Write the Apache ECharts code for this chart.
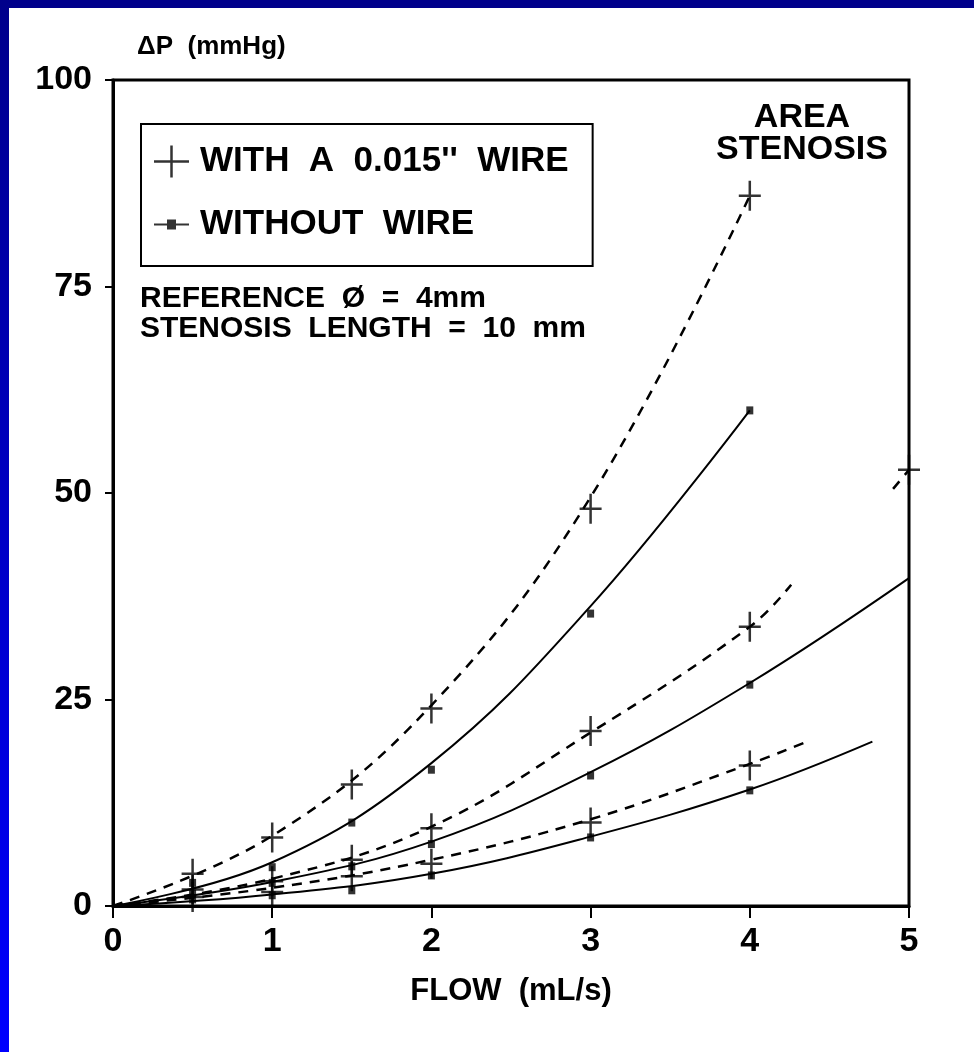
<!DOCTYPE html>
<html>
<head>
<meta charset="utf-8">
<script src="https://cdn.jsdelivr.net/npm/echarts@6/dist/echarts.min.js"></script>
<style>
  html, body { margin: 0; padding: 0; background: #fff; }
  #chart { width: 974px; height: 1052px; }
  .band-top { position: absolute; left: 0; top: 0; width: 974px; height: 8px; background: #00008b; }
  .band-left { position: absolute; left: 0; top: 0; width: 9px; height: 1052px; background: linear-gradient(#00008b, #0000ff); }
</style>
</head>
<body>
<div id="chart"></div>
<div class="band-top"></div>
<div class="band-left"></div>
<script>
// axes
const flowRange = [0, 5];
const pressureRange = [0, 100];

// measured points, with a 0.015" wire (+)
const wireHigh = [[0.5, 3.9], [1, 8.3], [1.5, 14.7], [2, 23.9], [3, 48.1], [4, 86]];
const wireMid = [[0.5, 2.0], [1, 3.0], [1.5, 5.6], [2, 9.4], [3, 21.2], [4, 33.8], [5, 52.8]];
const wireLow = [[0.5, 1.1], [1, 1.7], [1.5, 3.6], [2, 5.1], [3, 10.1], [4, 17.0]];
// measured points, without wire
const bareHigh = [[0.5, 2.8], [1, 4.7], [1.5, 10.1], [2, 16.5], [3, 35.4], [4, 60]];
const bareMid = [[0.5, 1.5], [1, 2.8], [1.5, 4.8], [2, 7.5], [3, 15.8], [4, 26.8]];
const bareLow = [[0.5, 0.8], [1, 1.3], [1.5, 1.9], [2, 3.7], [3, 8.3], [4, 14.0]];

// fitted curves (dashed = with wire)
const fitWireHigh = [[0, 0], [1, 8.5], [2, 24.3], [3, 49.5], [4, 86]];
const fitWireMid = [[0, 0], [1, 3.3], [2, 9.6], [3, 21], [4, 33.8], [4.26, 38.9]];
const fitWireMidTail = [[4.9, 50.5], [5, 52.8]];
const fitWireLow = [[0, 0], [1, 2.2], [2, 5.6], [3, 10.5], [4, 17.2], [4.36, 19.9]];
const fitBareHigh = [[0, 0], [1, 5.3], [2, 17.3], [3, 36.3], [4, 60]];
const fitBareMid = [[0, 0], [1, 2.9], [2, 7.8], [3, 16.2], [4, 27], [5, 39.7]];
const fitBareLow = [[0, 0], [1, 1.4], [2, 3.9], [3, 8.4], [4, 14.1], [4.77, 19.9]];

const WIRE = 'WITH  A  0.015\'\'  WIRE';
const NOWIRE = 'WITHOUT  WIRE';

const plain = '"Liberation Sans", Arial, sans-serif';

const plusSymbol = 'path://M9.75,0 H12.25 V13.75 H22 V16.25 H12.25 V30 H9.75 V16.25 H0 V13.75 H9.75 Z';
const plusIcon = 'path://M16.25,0 H18.75 V14.75 H35 V17.25 H18.75 V32 H16.25 V17.25 H0 V14.75 H16.25 Z';
const rectIcon = 'path://M0,15 H13 V11 H22 V15 H35 V17 H22 V21 H13 V17 H0 Z';

function curve(name, pts, dashed) {
  return {
    name: name,
    type: 'line',
    data: pts,
    smooth: 0.4,
    showSymbol: false,
    silent: true,
    itemStyle: { color: '#000' },
    lineStyle: { color: '#000', width: dashed ? 2.5 : 2, type: dashed ? [10, 8] : 'solid' },
    z: 2
  };
}

function marks(name, pts, wire) {
  return {
    name: name,
    type: 'scatter',
    data: pts,
    symbol: wire ? plusSymbol : 'rect',
    symbolSize: wire ? [22, 30] : [7, 8],
    itemStyle: { color: '#000' },
    silent: true,
    z: 3
  };
}

const chart = echarts.init(document.getElementById('chart'));
chart.setOption({
  backgroundColor: '#fff',
  animation: false,
  grid: { left: 113, right: 65, top: 80, bottom: 146, show: true, borderColor: '#000', borderWidth: 3 },
  legend: {
    left: 141, top: 124,
    orient: 'vertical',
    padding: [20, 24, 24, 13],
    itemGap: 28,
    itemWidth: 35,
    itemHeight: 32,
    borderColor: '#000',
    borderWidth: 2,
    selectedMode: false,
    textStyle: { fontFamily: plain, fontWeight: 'bold', fontSize: 35, color: '#000', lineHeight: 34, padding: [0, 0, 0, 6] },
    data: [{ name: WIRE, icon: plusIcon }, { name: NOWIRE, icon: rectIcon }]
  },
  xAxis: {
    type: 'value',
    min: flowRange[0], max: flowRange[1], interval: 1,
    name: 'FLOW  (mL/s)',
    nameLocation: 'middle',
    nameGap: 70,
    nameTextStyle: { fontFamily: plain, fontWeight: 'bold', fontSize: 31, color: '#000' },
    axisLine: { lineStyle: { color: '#000', width: 3 } },
    axisTick: { length: 12, lineStyle: { color: '#000', width: 2 } },
    axisLabel: { margin: 19, fontFamily: plain, fontWeight: 'bold', fontSize: 34, color: '#000' },
    splitLine: { show: false }
  },
  yAxis: {
    type: 'value',
    min: pressureRange[0], max: pressureRange[1], interval: 25,
    name: 'ΔP  (mmHg)',
    nameLocation: 'end',
    nameGap: 20,
    nameTextStyle: { fontFamily: plain, fontWeight: 'bold', fontSize: 26, color: '#000', align: 'left', padding: [0, 0, 0, 24] },
    axisLine: { lineStyle: { color: '#000', width: 3 } },
    axisTick: { length: 8, lineStyle: { color: '#000', width: 2 } },
    axisLabel: { margin: 21, fontFamily: plain, fontWeight: 'bold', fontSize: 34, color: '#000' },
    splitLine: { show: false }
  },
  graphic: [
    {
      type: 'text', x: 140, y: 284,
      style: {
        text: 'REFERENCE  Ø  =  4mm\nSTENOSIS  LENGTH  =  10  mm',
        font: 'bold 30px ' + plain, fill: '#000', lineHeight: 30
      }
    },
    {
      type: 'text', x: 802, y: 102,
      style: {
        text: 'AREA\nSTENOSIS', align: 'center',
        font: 'bold 34px ' + plain, fill: '#000', lineHeight: 32
      }
    }
  ],
  series: [
    marks(WIRE, wireHigh, true),
    marks(WIRE, wireMid, true),
    marks(WIRE, wireLow, true),
    marks(NOWIRE, bareHigh, false),
    marks(NOWIRE, bareMid, false),
    marks(NOWIRE, bareLow, false),
    curve(WIRE, fitWireHigh, true),
    curve(WIRE, fitWireMid, true),
    curve(WIRE, fitWireMidTail, true),
    curve(WIRE, fitWireLow, true),
    curve(NOWIRE, fitBareHigh, false),
    curve(NOWIRE, fitBareMid, false),
    curve(NOWIRE, fitBareLow, false)
  ]
});
</script>
</body>
</html>
